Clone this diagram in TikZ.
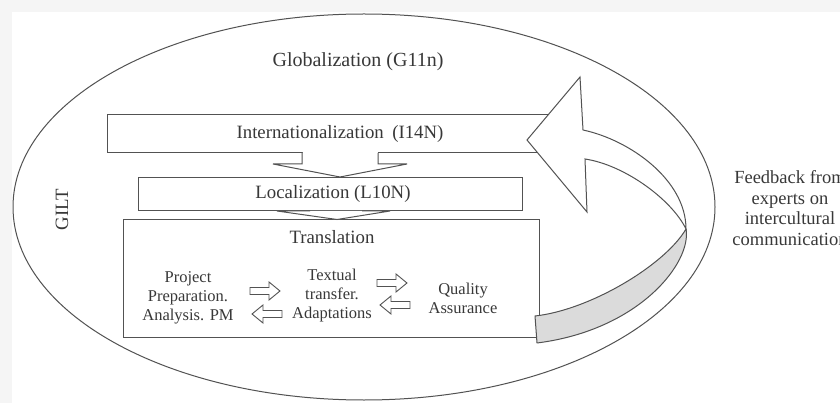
\documentclass[tikz,border=0pt]{standalone}
\usepackage{fontspec}
\setmainfont{Liberation Serif}
\usetikzlibrary{shapes.geometric}
\newcommand\fsGlob{\fontsize{20}{24}\selectfont}
\newcommand\fsBox{\fontsize{18.8}{22}\selectfont}
\newcommand\fsSm{\fontsize{16.5}{19.2}\selectfont}
\newcommand\fsFb{\fontsize{18.5}{20.6}\selectfont}
\tikzset{
  ln/.style={draw=black!68, line width=1pt},
  box/.style={ln, fill=white, rectangle, inner sep=0pt},
  txt/.style={text=black!78, inner sep=0pt},
  band/.style={ln, fill=black!14, line join=round},
  bigarrow/.style={ln, fill=white, line join=miter},
  rarrow/.pic={\draw[ln, line width=0.9pt, fill=white] (-15,-3.5) -- (4,-3.5) -- (4,-9) -- (15,0) -- (4,9) -- (4,3.5) -- (-15,3.5) -- cycle;},
  larrow/.pic={\draw[ln, line width=0.9pt, fill=white] (15,-3.5) -- (-4,-3.5) -- (-4,-9) -- (-15,0) -- (-4,9) -- (-4,3.5) -- (15,3.5) -- cycle;}
}
\begin{document}
\begin{tikzpicture}[x=1pt,y=-1pt]
\useasboundingbox (0,0) rectangle (840,403);
\clip (0,0) rectangle (840,403);
\fill[black!4] (0,0) rectangle (840,403);
\fill[white] (12,12) rectangle (840,403);

% outer ellipse
\node[ln, ellipse, minimum width=702pt, minimum height=386pt, inner sep=0pt] (glob) at (364,207) {};
\node[txt, font=\fsGlob] (globt) at (358,62) {Globalization (G11n)};
\node[txt, font=\fsBox, rotate=90] (gilt) at (62,210) {GILT};

% boxes
\node[box, minimum width=458pt, minimum height=38pt] (intl) at (336,134) {};
\node[box, minimum width=384pt, minimum height=33pt] (loc) at (330,194.5) {};
\node[box, minimum width=416pt, minimum height=117pt] (trans) at (331,278.5) {};

\node[txt, font=\fsBox] (intlt) at (340,134) {Internationalization\hspace{0.45em}(I14N)};
\node[txt, font=\fsBox] (loct) at (333,194) {Localization (L10N)};
\node[txt, font=\fsBox] (transt) at (332,237) {Translation};

% down arrows between boxes
\fill[white] (302.5,150) rectangle (377.5,156);
\draw[ln, fill=white, line join=miter] (302,153) -- (302,164) -- (273,164) -- (340,177) -- (407,164) -- (378,164) -- (378,153);
\draw[ln, fill=white, line join=miter] (310,211) -- (277,211) -- (337,219.5) -- (390,211) -- (362,211);

% inner texts
\node[txt, align=center, font=\fsSm] (pp) at (188,298) {Project\\Preparation.\\Analysis. PM};
\node[txt, align=center, font=\fsSm] (tt) at (332,295.5) {Textual\\transfer.\\Adaptations};
\node[txt, align=center, font=\fsSm] (qa) at (463,298.5) {Quality\\Assurance};

% small arrows
\pic at (265,291) {rarrow};
\pic at (267,314) {larrow};
\pic at (392,283) {rarrow};
\pic at (395,305) {larrow};

% feedback text
\node[txt, align=center, font=\fsFb] (fb) at (790,208) {Feedback from\\experts on\\intercultural\\communication};

% curved feedback arrow: lower twisted band
\draw[band] (535,316) .. controls (590,310) and (665,265) .. (686,229)
  .. controls (692,262) and (640,330) .. (537,343) -- cycle;
% upper part with arrow head
\draw[bigarrow] (686,229) .. controls (686,180) and (630,140) .. (583,130)
  -- (580,77) -- (527,140) -- (587,212) -- (585,159)
  .. controls (625,165) and (672,200) .. (686,229) -- cycle;
\end{tikzpicture}
\end{document}
